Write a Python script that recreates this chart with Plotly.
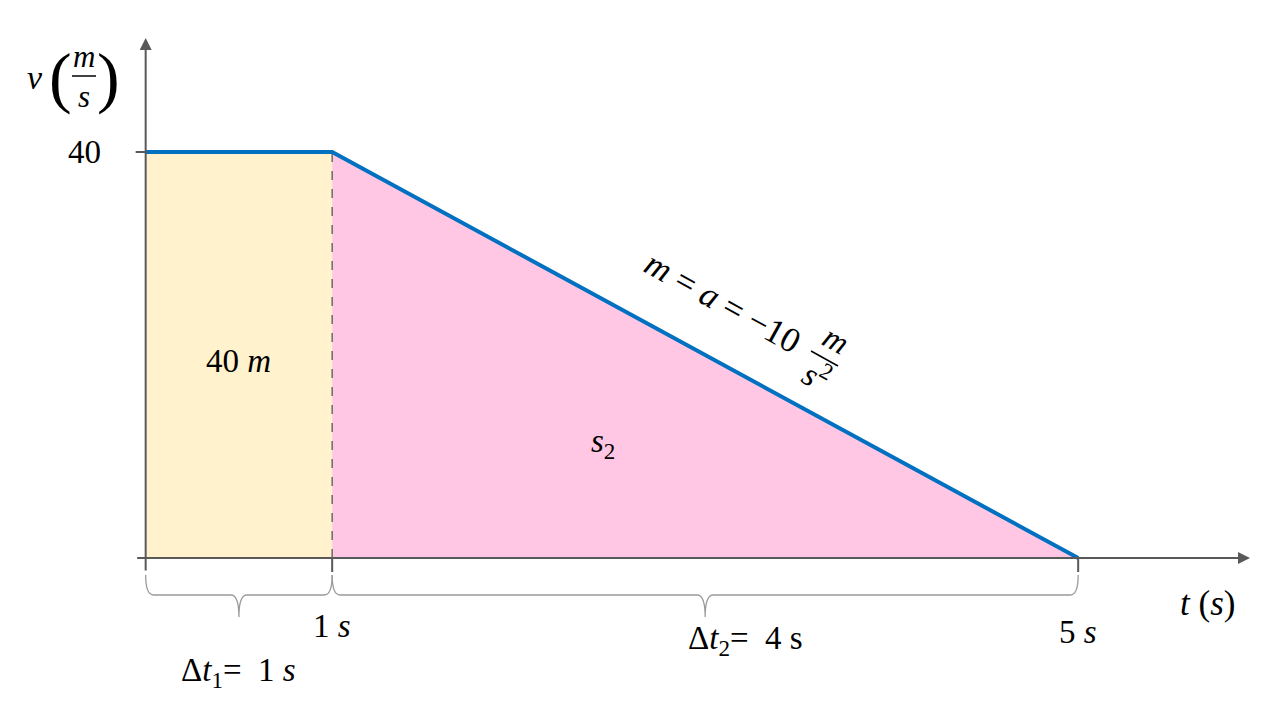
import plotly.graph_objects as go

# ---- data ----
t_knots = [0, 1, 5]          # s
v_knots = [40, 40, 0]        # m/s
phase1_t = [0, 1]
phase2_t = [1, 5]
t_ticks = [1, 5]
t_tick_labels = ["1 <i>s</i>", "5 <i>s</i>"]
v_ticks = [40]
v_tick_labels = ["40"]

# ---- scales (pixels per unit) ----
OFF = 8            # page body margin
PX_T = 186.5
PX_V = 10.15
T0_PX = 145.67 - OFF
V0_PX = 558.0 - OFF
W, H = 1280, 720

def tpx(dpx):
    return dpx / PX_T

def vpx(dpx):
    return dpx / PX_V

def px(x):
    return (x - OFF) / W

def py(y):
    return 1 - (y - OFF) / H

x_range = [(0 - T0_PX) / PX_T, (W - T0_PX) / PX_T]
y_range = [(V0_PX - H) / PX_V, (V0_PX - 0) / PX_V]

FONT = "Liberation Serif"
AX_COL = "#595959"
BRACE_COL = "#9a9a9a"
FS = 33
NB = "\u00a0"

fig = go.Figure()

# area 1 (rectangle)
fig.add_trace(go.Scatter(
    x=[phase1_t[0], phase1_t[1], phase1_t[1], phase1_t[0]],
    y=[0, 0, v_knots[1], v_knots[0]],
    fill="toself", fillcolor="#FFF2CC", line=dict(width=0),
    mode="lines", hoverinfo="skip", showlegend=False))
# area 2 (triangle)
fig.add_trace(go.Scatter(
    x=[phase2_t[0], phase2_t[1], phase2_t[0]],
    y=[v_knots[1], v_knots[2], 0],
    fill="toself", fillcolor="#FFC7E4", line=dict(width=0),
    mode="lines", hoverinfo="skip", showlegend=False))
# dashed divider
fig.add_trace(go.Scatter(
    x=[phase1_t[1], phase1_t[1]], y=[0, v_knots[1]],
    mode="lines", line=dict(color="#6a6a6a", width=1.5, dash="dash"),
    hoverinfo="skip", showlegend=False))
# velocity line
fig.add_trace(go.Scatter(
    x=t_knots, y=v_knots, mode="lines",
    line=dict(color="#0070C0", width=4),
    hoverinfo="skip", showlegend=False))

shapes = []
annotations = []

def label(text, x, y, size=FS, xref="paper", yref="paper", angle=0):
    annotations.append(dict(x=x, y=y, xref=xref, yref=yref, text=text,
                            showarrow=False, xanchor="center", yanchor="middle",
                            textangle=angle,
                            font=dict(family=FONT, size=size, color="black")))

# axes with arrows
annotations.append(dict(x=tpx(1250 - OFF - T0_PX), y=0, ax=tpx(-10), ay=0,
                        xref="x", yref="y", axref="x", ayref="y",
                        showarrow=True, arrowhead=2, arrowsize=1.2,
                        arrowwidth=2, arrowcolor=AX_COL, text=""))
annotations.append(dict(x=0, y=vpx(V0_PX - (38 - OFF)), ax=0, ay=vpx(-14),
                        xref="x", yref="y", axref="x", ayref="y",
                        showarrow=True, arrowhead=2, arrowsize=1.2,
                        arrowwidth=2, arrowcolor=AX_COL, text=""))

# ticks
for v, lab in zip(v_ticks, v_tick_labels):
    shapes.append(dict(type="line", xref="x", yref="y", x0=tpx(-10), x1=0,
                       y0=v, y1=v, line=dict(color=AX_COL, width=2)))
    label(lab, px(84), v, yref="y")
for t in t_ticks:
    shapes.append(dict(type="line", xref="x", yref="y", x0=t, x1=t,
                       y0=0, y1=vpx(-14), line=dict(color=AX_COL, width=2)))

label(t_tick_labels[0], t_ticks[0], py(626), xref="x")
label(t_tick_labels[1], t_ticks[1], py(632), xref="x")

# braces
def brace(t0, t1):
    ytop = vpx(-17)
    ymid = vpx(-37)
    ytip = vpx(-59)
    dx = tpx(8)
    tm = (t0 + t1) / 2
    return (f"M {t0},{ytop} Q {t0},{ymid} {t0+dx},{ymid} "
            f"L {tm-dx},{ymid} Q {tm},{ymid} {tm},{ytip} "
            f"Q {tm},{ymid} {tm+dx},{ymid} L {t1-dx},{ymid} "
            f"Q {t1},{ymid} {t1},{ytop}")

for (a, b) in [phase1_t, phase2_t]:
    shapes.append(dict(type="path", xref="x", yref="y", path=brace(a, b),
                       line=dict(color=BRACE_COL, width=1.3)))

label(f"Δ<i>t</i><sub>1</sub>={NB} 1 <i>s</i>", (phase1_t[0] + phase1_t[1]) / 2,
      py(672), xref="x")
label(f"Δ<i>t</i><sub>2</sub>={NB} 4 s", px(745), py(640))

# axis titles
label("<i>v</i>", px(35), py(77), size=34)
label("(", px(60), py(77), size=68)
label(")", px(108), py(77), size=68)
label("<i>m</i>", px(84), py(57), size=31)
label("<i>s</i>", px(84), py(96), size=31)
shapes.append(dict(type="line", xref="paper", yref="paper",
                   x0=px(72), x1=px(96), y0=py(76), y1=py(76),
                   line=dict(color="black", width=1.5)))

label("<i>t</i> (<i>s</i>)", px(1207), py(603), size=35)

# area labels
label("40 <i>m</i>", (phase1_t[0] + phase1_t[1]) / 2, py(361), xref="x")
label("<i>s</i><sub>2</sub>", px(603), py(443))

# slope label (rotated)
ANG = 29
label(f"<i>m</i>{NB}={NB}<i>a</i>{NB}={NB}−10", px(723), py(302), size=35, angle=ANG)
label("<i>m</i>", px(836), py(340), size=FS, angle=ANG)
label("<i>s</i><sup>2</sup>", px(817), py(375), size=FS, angle=ANG)
shapes.append(dict(type="line", xref="paper", yref="paper",
                   x0=px(811), x1=px(838), y0=py(351), y1=py(366),
                   line=dict(color="black", width=1.5)))

fig.update_layout(
    width=W, height=H,
    margin=dict(l=0, r=0, t=0, b=0),
    paper_bgcolor="white", plot_bgcolor="white",
    xaxis=dict(range=x_range, visible=False, fixedrange=True),
    yaxis=dict(range=y_range, visible=False, fixedrange=True),
    shapes=shapes, annotations=annotations,
    showlegend=False,
)

fig.write_html("out.html")
